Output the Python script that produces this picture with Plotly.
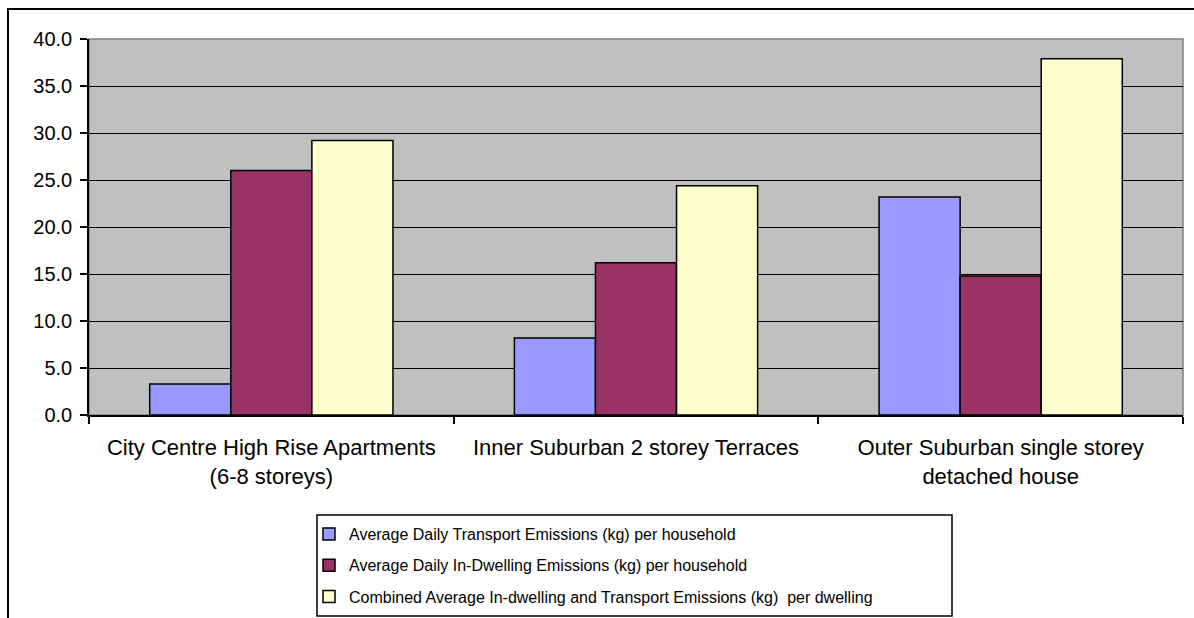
import plotly.graph_objects as go

categories = [
    "City Centre High Rise Apartments<br>(6-8 storeys)",
    "Inner Suburban 2 storey Terraces",
    "Outer Suburban single storey<br>detached house",
]
transport = [3.3, 8.2, 23.2]
in_dwelling = [26.0, 16.2, 14.8]
combined = [29.2, 24.4, 37.9]
series_names = [
    "Average Daily Transport Emissions (kg) per household",
    "Average Daily In-Dwelling Emissions (kg) per household",
    "Combined Average In-dwelling and Transport Emissions (kg)  per dwelling",
]
colors = ["#9999FF", "#993366", "#FFFFCC"]
y_ticks = [0, 5, 10, 15, 20, 25, 30, 35, 40]

FONT = "Liberation Sans, Arial, sans-serif"

fig = go.Figure()
for i, (name, vals) in enumerate(zip(series_names, [transport, in_dwelling, combined])):
    fig.add_trace(go.Bar(
        x=categories, y=vals, name=name,
        marker=dict(color=colors[i], line=dict(color="black", width=1.5)),
        legendgroup=f"g{i}",
    ))

L, R, T, B = 89, 11, 39, 203
W, H = 1194, 618
pw, ph = W - L - R, H - T - B

def px_x(x):
    return (x - L) / pw

def px_y(y):
    return (H - B - y) / ph

fig.update_layout(
    width=W, height=H,
    margin=dict(l=L, r=R, t=T, b=B, pad=0, autoexpand=False),
    paper_bgcolor="white",
    plot_bgcolor="#C0C0C0",
    barmode="group",
    bargap=0.333,
    bargroupgap=0,
    font=dict(family=FONT, color="black"),
    showlegend=True,
    legend=dict(
        x=px_x(309), y=px_y(517), xanchor="left", yanchor="top",
        borderwidth=0, bgcolor="rgba(0,0,0,0)",
        font=dict(size=16, family=FONT),
        traceorder="grouped", tracegroupgap=7.5,
        itemwidth=30,
        itemclick=False,
    ),
    xaxis=dict(
        type="category",
        showline=True, linecolor="black", linewidth=1.5,
        ticks="outside", ticklen=7, tickcolor="black", tickwidth=1.5,
        tickson="boundaries",
        showgrid=False,
        tickfont=dict(size=22, family=FONT),
        ticklabelstandoff=12,
    ),
    yaxis=dict(
        range=[0, 40],
        tickvals=y_ticks,
        ticktext=[f"{v:.1f}" for v in y_ticks],
        showline=True, linecolor="black", linewidth=1.5,
        ticks="outside", ticklen=7, tickcolor="black", tickwidth=1.5,
        showgrid=True, gridcolor="black", gridwidth=1.2,
        zeroline=False,
        tickfont=dict(size=20, family=FONT),
        ticklabelstandoff=4,
    ),
    shapes=[
        dict(type="rect", xref="paper", yref="paper", x0=0, x1=1, y0=0, y1=1,
             line=dict(color="#808080", width=1.5), layer="below"),
        dict(type="rect", xref="paper", yref="paper",
             x0=px_x(317), x1=px_x(952), y0=px_y(616), y1=px_y(515),
             line=dict(color="black", width=1.5), fillcolor="white", layer="below"),
        dict(type="rect", xref="paper", yref="paper",
             x0=px_x(8), x1=px_x(1210), y0=px_y(640), y1=px_y(9),
             line=dict(color="black", width=2), layer="above"),
    ],
)

fig.write_html("out.html")
